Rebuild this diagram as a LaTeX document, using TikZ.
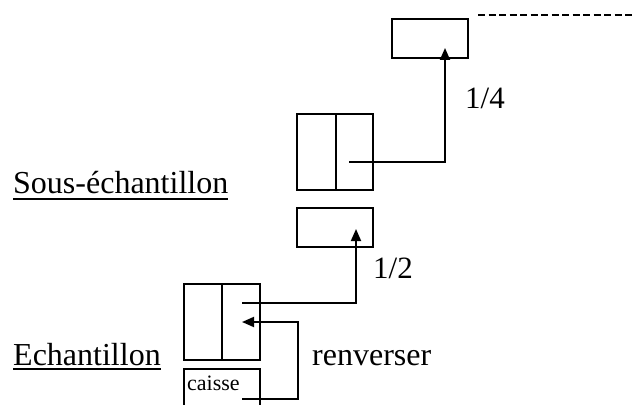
\documentclass[tikz,border=0pt]{standalone}
\usepackage{fontspec}
\setmainfont{Liberation Serif}
\usetikzlibrary{arrows.meta}
\begin{document}
\begin{tikzpicture}[x=1pt,y=-1pt,
  ln/.style={line width=1.8pt},
  box/.style={draw,line width=1.8pt,minimum width=76pt,inner sep=0pt},
  arr/.style={line width=1.8pt,-{Triangle[length=12pt,width=10pt]}},
  big/.style={inner sep=0pt,anchor=base west,font=\fontsize{32}{38}\selectfont},
  frac/.style={inner sep=0pt,anchor=base west,font=\fontsize{31}{37}\selectfont},
  small/.style={inner sep=0pt,anchor=base west,font=\fontsize{22}{26}\selectfont}]
\useasboundingbox (0,0) rectangle (634,404);
% boxes
\node[box,minimum height=39pt] (top) at (430,38.5) {};
\node[box,minimum height=76pt] (sd) at (335,152) {};
\draw[ln] (336,114) -- (336,190);
\node[box,minimum height=39pt] (sm) at (335,227.5) {};
\node[box,minimum height=76pt] (ed) at (222,322) {};
\draw[ln] (ed.north) -- (ed.south);
\draw[ln] (184,405) -- (184,369) -- (260,369) -- (260,405);
\node[small] (caisse) at (187,390) {caisse};
% dashed line
\coordinate (d1) at (478,15);
\coordinate (d2) at (634,15);
\draw[line width=2.2pt,dash pattern=on 7pt off 3.5pt] (d1) -- (d2);
% labels
\node[big] (se) at (13,193) {Sous-échantillon};
\draw[line width=1.8pt] ([yshift=-6pt]se.base west) -- ([yshift=-6pt]se.base east);
\node[big] (ech) at (13,365) {Echantillon};
\draw[line width=1.8pt] ([yshift=-4pt]ech.base west) -- ([yshift=-4pt]ech.base east);
\node[big] (ren) at (312,365) {renverser};
\node[frac] (q) at (465,108) {1/4};
\node[frac] (h) at (373,278) {1/2};
% connectors
\coordinate (s1) at (349,162);
\coordinate (t1) at (445,48);
\draw[arr] (s1) -| (t1);
\coordinate (e1) at (242,303);
\coordinate (m1) at (356,229);
\draw[arr] (e1) -| (m1);
\coordinate (c1) at (242,399);
\coordinate (turn) at (298,322);
\coordinate (e2) at (242,322);
\draw[arr] (c1) -| (turn) -- (e2);
\end{tikzpicture}
\end{document}
